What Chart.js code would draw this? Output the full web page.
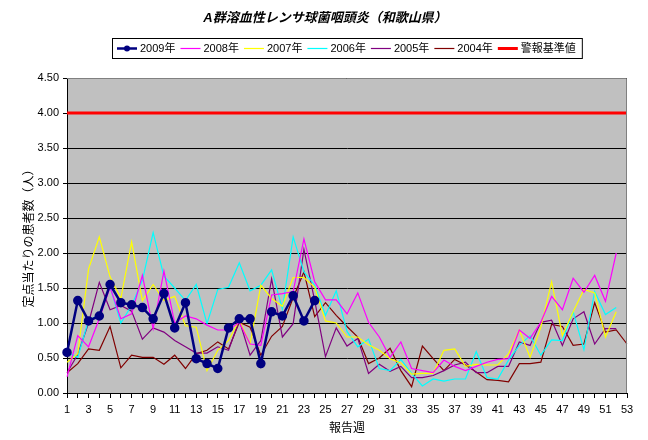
<!DOCTYPE html>
<html>
<head>
<meta charset="utf-8">
<script src="https://cdn.jsdelivr.net/npm/chart.js@4.4.1/dist/chart.umd.min.js"></script>
<style>
  html, body { margin: 0; padding: 0; background: #fff; }
  #wrap { width: 648px; height: 440px; }
</style>
</head>
<body>
<div id="wrap"><canvas id="myChart" width="648" height="440"></canvas></div>
<script>
// report weeks 1..53
const weeks = ['1','2','3','4','5','6','7','8','9','10','11','12','13','14','15','16','17','18','19','20',
  '21','22','23','24','25','26','27','28','29','30','31','32','33','34','35','36','37','38','39','40',
  '41','42','43','44','45','46','47','48','49','50','51','52','53'];

const y2009 = [0.58,1.32,1.03,1.10,1.55,1.29,1.26,1.22,1.06,1.42,0.93,1.29,0.49,0.42,0.35,0.93,1.06,1.06,0.42,1.16,
  1.10,1.39,1.03,1.32];
const y2008 = [0.23,0.82,0.66,1.06,1.51,1.06,1.13,1.68,0.92,1.74,1.00,1.10,1.06,0.97,0.90,0.90,1.01,0.70,0.68,1.40,
  1.42,1.45,2.20,1.59,1.33,1.33,1.13,1.43,1.01,0.80,0.51,0.73,0.35,0.32,0.29,0.47,0.38,0.32,0.38,0.44,
  0.48,0.49,0.90,0.78,1.01,1.38,1.19,1.64,1.44,1.68,1.31,2.00];
const y2007 = [0.44,0.56,1.77,2.23,1.66,1.35,2.16,1.32,1.55,1.32,1.38,0.96,0.94,0.32,0.61,0.75,1.04,0.70,1.54,1.35,
  1.24,1.65,1.65,1.51,1.03,1.00,0.80,0.80,0.69,0.61,0.49,0.43,0.27,0.28,0.28,0.61,0.63,0.38,0.41,0.40,
  0.40,0.56,0.90,0.51,0.94,1.59,0.82,1.16,1.48,1.43,0.80,1.16];
const y2006 = [0.58,0.51,1.04,1.11,1.52,1.00,1.25,1.61,2.29,1.67,1.50,1.32,1.55,0.99,1.48,1.51,1.86,1.46,1.54,1.76,
  1.20,2.23,1.73,1.54,1.11,1.46,0.88,0.66,0.77,0.35,0.32,0.48,0.28,0.10,0.20,0.17,0.20,0.20,0.59,0.22,
  0.20,0.47,0.68,0.82,0.54,0.76,0.75,1.16,0.62,1.45,1.12,1.22];
const y2005 = [0.29,0.55,1.00,1.58,1.19,1.25,1.17,0.77,0.93,0.87,0.75,0.66,0.57,0.57,0.66,0.61,1.04,0.54,0.75,1.63,
  0.80,0.99,2.05,1.32,0.52,0.93,0.67,0.78,0.28,0.41,0.31,0.38,0.22,0.22,0.25,0.32,0.40,0.44,0.29,0.29,
  0.38,0.38,0.73,0.68,1.01,1.04,0.68,1.06,1.16,0.70,0.92,0.92];
const y2004 = [0.29,0.42,0.63,0.61,0.95,0.36,0.54,0.51,0.51,0.41,0.54,0.35,0.56,0.61,0.73,0.63,1.01,0.94,0.54,0.81,
  0.95,1.36,1.73,1.09,1.29,1.11,0.95,0.80,0.42,0.50,0.64,0.32,0.09,0.67,0.49,0.32,0.48,0.40,0.30,0.19,
  0.18,0.16,0.42,0.42,0.44,0.98,0.95,0.68,0.70,1.29,0.87,0.90,0.70];
// alarm level line, from week 1 to week 53
const alarmWeeks = ['1','53'];
const alarmValues = [4.0, 4.0];

const yTicks = [0,0.5,1,1.5,2,2.5,3,3.5,4,4.5];

const FONT = '"Liberation Sans", Arial, "Noto Sans CJK JP", sans-serif';

function line(label, data, color, width) {
  return {
    label: label,
    data: data,
    borderColor: color,
    backgroundColor: color,
    borderWidth: width,
    pointRadius: 0,
    pointHoverRadius: 0,
    tension: 0,
    fill: false
  };
}

const ds2009 = line('2009年', y2009, '#000080', 2.5);
ds2009.pointRadius = 3.5;
ds2009.pointBackgroundColor = '#000080';
ds2009.pointBorderColor = '#000080';

const dsAlarm = line('警報基準値', alarmWeeks.map((w, i) => ({x: w, y: alarmValues[i]})), '#FF0000', 3);

// grey plot area + frame
const plotBg = {
  id: 'plotBg',
  beforeDraw(chart) {
    const a = chart.chartArea, ctx = chart.ctx;
    ctx.save();
    ctx.fillStyle = '#C0C0C0';
    ctx.fillRect(a.left, a.top, a.right - a.left, a.bottom - a.top);
    ctx.restore();
  },
  afterDraw(chart) {
    const a = chart.chartArea, ctx = chart.ctx;
    ctx.save();
    ctx.strokeStyle = '#808080';
    ctx.lineWidth = 1;
    ctx.beginPath();
    ctx.moveTo(a.left, a.top + 0.5);
    ctx.lineTo(a.right - 0.5, a.top + 0.5);
    ctx.lineTo(a.right - 0.5, a.bottom);
    ctx.stroke();
    ctx.restore();
  }
};

// title and boxed legend on top
const header = {
  id: 'header',
  afterDraw(chart) {
    const ctx = chart.ctx;
    ctx.save();
    ctx.fillStyle = '#000';
    ctx.font = 'italic bold 13px ' + FONT;
    ctx.textAlign = 'center';
    ctx.textBaseline = 'middle';
    ctx.fillText('A群溶血性レンサ球菌咽頭炎（和歌山県）', 325, 18);

    ctx.font = '11px ' + FONT;
    ctx.textAlign = 'left';
    const sw = 20, gap = 3, sp = 5;
    const sets = chart.data.datasets;
    let total = 6;
    sets.forEach(d => { total += sw + gap + ctx.measureText(d.label).width + sp; });
    const cx = (chart.chartArea.left + chart.chartArea.right) / 2;
    let x = Math.round(cx - total / 2);
    const top = 38, h = 20, mid = top + h / 2;
    ctx.strokeStyle = '#000';
    ctx.lineWidth = 1;
    ctx.strokeRect(x + 0.5, top + 0.5, total, h);
    x += 5;
    sets.forEach(d => {
      ctx.strokeStyle = d.borderColor;
      ctx.lineWidth = d.borderWidth;
      ctx.beginPath();
      ctx.moveTo(x, mid + 0.5);
      ctx.lineTo(x + sw, mid + 0.5);
      ctx.stroke();
      if (d.pointRadius > 0) {
        ctx.fillStyle = d.borderColor;
        ctx.beginPath();
        ctx.arc(x + sw / 2, mid + 0.5, 3, 0, Math.PI * 2);
        ctx.fill();
      }
      x += sw + gap;
      ctx.fillStyle = '#000';
      ctx.fillText(d.label, x, mid + 1);
      x += ctx.measureText(d.label).width + sp;
    });
    ctx.restore();
  }
};

new Chart(document.getElementById('myChart').getContext('2d'), {
  type: 'line',
  data: {
    labels: weeks,
    datasets: [
      ds2009,
      line('2008年', y2008, '#FF00FF', 1.2),
      line('2007年', y2007, '#FFFF00', 1.2),
      line('2006年', y2006, '#00FFFF', 1.2),
      line('2005年', y2005, '#800080', 1.2),
      line('2004年', y2004, '#800000', 1.2),
      dsAlarm
    ]
  },
  options: {
    responsive: false,
    animation: false,
    events: [],
    layout: { padding: { top: 78, right: 21, left: 18, bottom: 0 } },
    plugins: {
      legend: { display: false },
      title: { display: false },
      tooltip: { enabled: false }
    },
    scales: {
      x: {
        type: 'category',
        offset: false,
        afterFit(s) { s.height = 47; },
        grid: {
          drawOnChartArea: false,
          drawTicks: true,
          tickLength: 5,
          color: '#000'
        },
        border: { color: '#000', width: 1 },
        ticks: {
          autoSkip: false,
          maxRotation: 0,
          padding: 5,
          color: '#000',
          font: { size: 11, family: FONT },
          callback(v, i) { return i % 2 === 0 ? weeks[i] : ''; }
        },
        title: {
          display: true,
          text: '報告週',
          color: '#000',
          font: { size: 12, family: FONT }
        }
      },
      y: {
        min: 0,
        max: 4.5,
        afterFit(s) { s.width = 49; },
        afterBuildTicks(s) { s.ticks = yTicks.map(v => ({ value: v })); },
        grid: {
          color: '#000',
          lineWidth: 1,
          tickLength: 4
        },
        border: { color: '#000', width: 1 },
        ticks: {
          padding: 4,
          color: '#000',
          font: { size: 11, family: FONT },
          callback(v) { return v.toFixed(2); }
        },
        title: {
          display: true,
          text: '定点当たりの患者数（人）',
          color: '#000',
          font: { size: 12, family: FONT }
        }
      }
    }
  },
  plugins: [plotBg, header]
});
</script>
</body>
</html>
